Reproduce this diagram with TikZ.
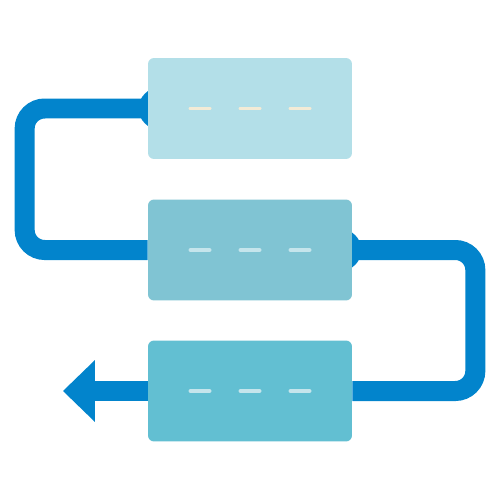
\documentclass[tikz,border=0pt]{standalone}
\usetikzlibrary{arrows.meta,backgrounds,calc}
\definecolor{flowblue}{HTML}{0284CC}
\definecolor{boxa}{HTML}{B3DFE8}
\definecolor{boxb}{HTML}{80C4D3}
\definecolor{boxc}{HTML}{62BFD2}
\definecolor{dasha}{HTML}{F3EBD6}
\definecolor{dashb}{HTML}{C5E5EC}
\begin{document}
\begin{tikzpicture}[x=0.02cm,y=-0.02cm]
  \tikzset{box/.style={rounded corners=0.12cm, minimum width=4.08cm, minimum height=2.02cm, inner sep=0pt, fill=#1},
           conn/.style={draw=flowblue, line width=0.4cm, rounded corners=0.4cm}};
\useasboundingbox (0,0) rectangle (500,500);

\node[box=boxa] (1) at (250,108.5) {};
\node[box=boxb] (2) at (250,250) {};
\node[box=boxc] (3) at (250,391) {};
\coordinate (tip) at (63,391);

\foreach \n/\c in {1/dasha,2/dashb,3/dashb}
  \foreach \dx in {-50,0,50}
    \draw[\c, line width=0.08cm, line cap=round] ($(\n)+(\dx-9.5,0)$) -- ($(\n)+(\dx+9.5,0)$);

\begin{scope}[on background layer]
\draw[conn] (1.west) -- ++(-123,0) |- (2.west);
\draw[conn] (2.east) -- ++(123,0) |- (3.east);
\draw[conn,-{Triangle[length=0.64cm,width=1.24cm,line width=0pt]}] (3.west) -- (tip);
\fill[flowblue] ($(1.west)+(12,0)$) circle [radius=0.42cm];
\fill[flowblue] ($(2.east)+(-12,0)$) circle [radius=0.42cm];
\end{scope}
\end{tikzpicture}
\end{document}
